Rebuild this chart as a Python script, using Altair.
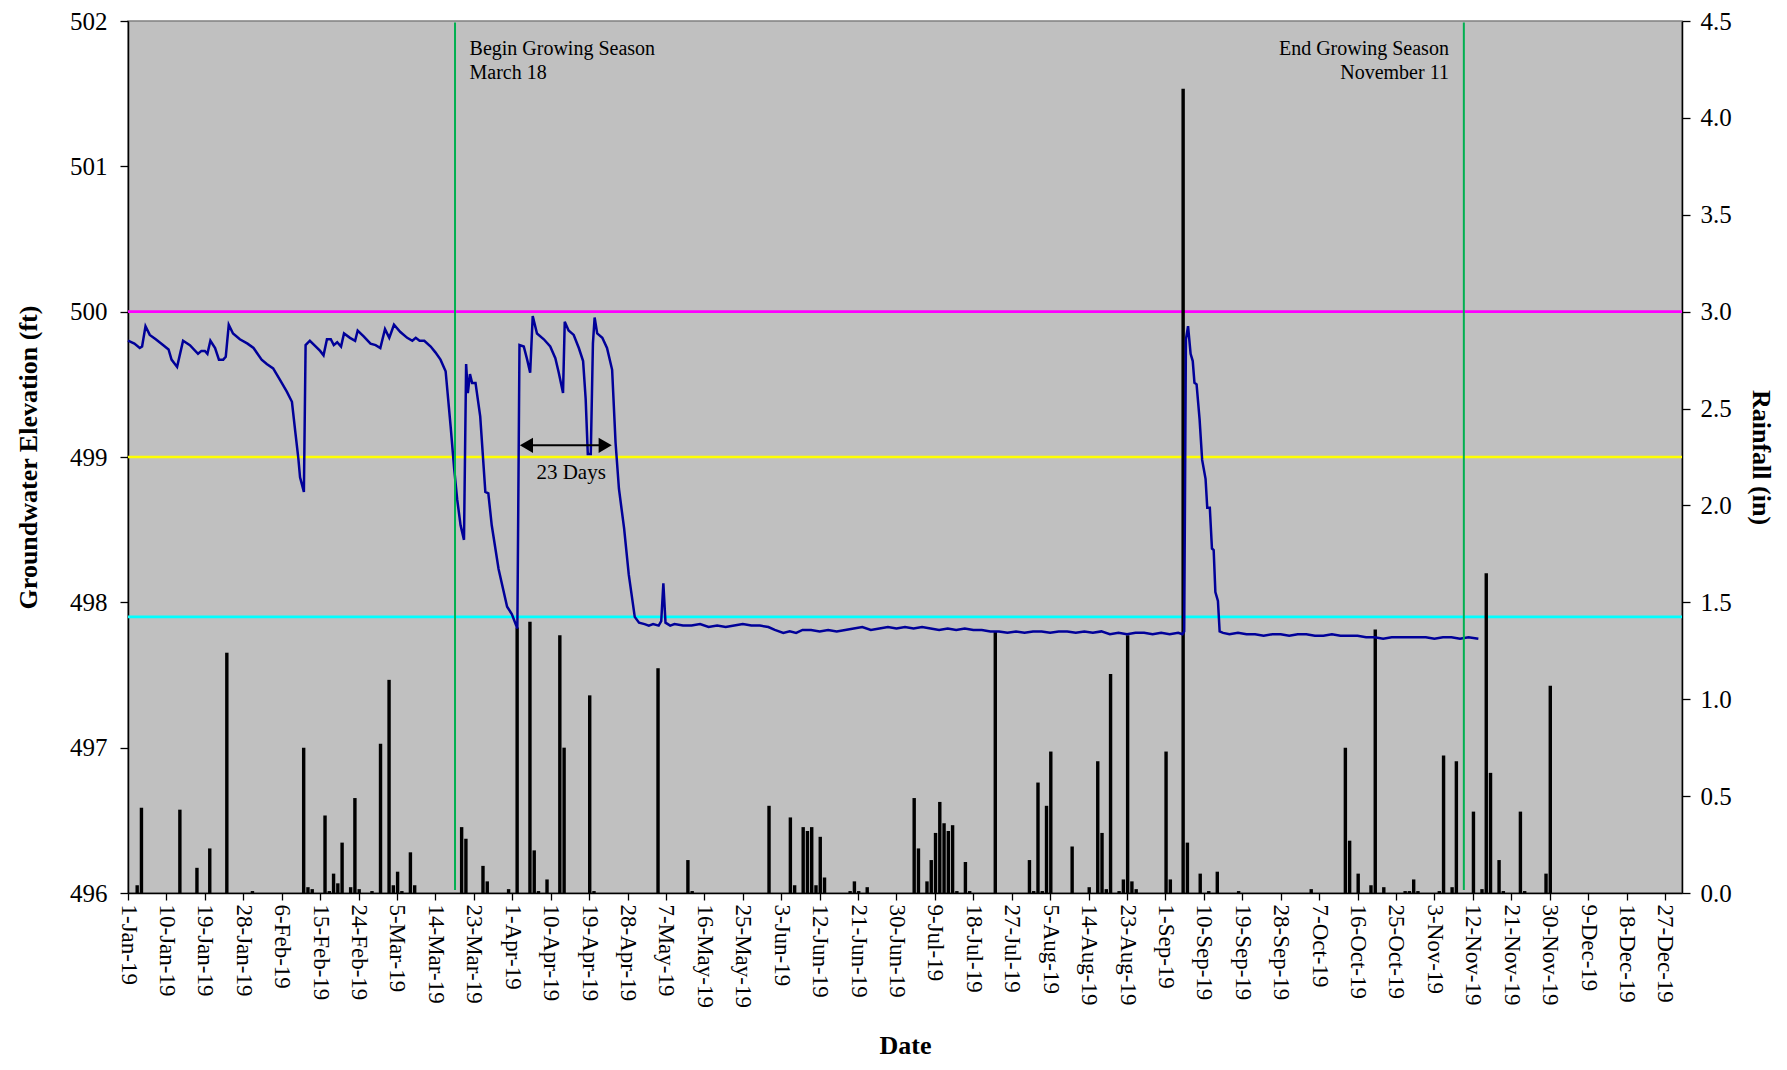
import altair as alt
import pandas as pd

# ---------------- data ----------------
# Groundwater elevation (ft): (day offset from 1-Jan-19, elevation)
gw_winter = [
    (0, 499.80), (1.5, 499.78), (2.75, 499.75), (3.3, 499.76), (4.1, 499.90), (5.1, 499.84),
    (6.5, 499.81), (8.2, 499.77), (9.5, 499.74), (10.2, 499.67), (11.5, 499.62), (12.9, 499.80),
    (14.5, 499.77), (16.4, 499.71), (17.2, 499.73), (18.0, 499.73), (18.6, 499.71), (19.3, 499.80),
    (20.4, 499.75), (21.3, 499.67), (22.3, 499.67), (22.9, 499.69), (23.6, 499.91), (24.6, 499.85),
    (26.2, 499.81), (28.0, 499.78), (29.4, 499.75), (31.3, 499.67), (32.5, 499.64), (34.0, 499.61),
    (35.6, 499.53), (37.2, 499.45), (38.4, 499.38), (39.2, 499.17), (39.9, 498.99), (40.3, 498.86),
    (41.2, 498.76), (41.6, 499.77), (42.6, 499.80), (44.0, 499.76), (45.0, 499.73), (45.8, 499.70),
    (46.6, 499.81), (47.5, 499.81), (48.2, 499.77), (49.0, 499.79), (49.9, 499.76), (50.6, 499.85),
    (52.0, 499.82), (53.2, 499.80), (53.8, 499.87), (55.2, 499.83), (56.8, 499.78), (58.0, 499.77),
    (59.1, 499.75), (60.2, 499.88), (61.2, 499.82), (62.3, 499.91), (63.8, 499.86), (65.4, 499.82),
    (66.6, 499.80), (67.4, 499.82), (68.3, 499.80), (69.4, 499.80), (70.9, 499.76), (72.0, 499.72),
    (73.2, 499.67), (74.4, 499.59),
]
gw_spring = [
    (75.6, 499.20), (76.4, 498.92), (77.1, 498.71), (77.9, 498.53), (78.7, 498.43), (79.2, 499.64),
    (79.6, 499.44), (80.1, 499.57), (80.6, 499.51), (81.4, 499.51), (82.5, 499.28), (83.7, 498.76),
    (84.4, 498.75), (85.2, 498.53), (86.8, 498.23), (88.8, 497.97), (89.9, 497.92), (91.2, 497.82),
    (91.7, 499.77), (92.7, 499.76), (93.5, 499.67), (94.2, 499.58), (94.8, 499.97), (95.8, 499.85),
    (97.4, 499.81), (98.9, 499.76), (100.1, 499.68), (100.9, 499.58), (101.9, 499.44), (102.3, 499.93),
    (103.2, 499.87), (104.4, 499.84), (105.6, 499.75), (106.6, 499.66), (107.2, 499.40), (107.7, 499.02),
    (108.4, 499.02), (108.9, 499.78), (109.3, 499.96), (109.9, 499.85), (111.1, 499.82), (112.2, 499.75),
    (113.4, 499.60), (114.2, 499.10), (115.0, 498.78), (116.2, 498.51), (117.3, 498.19), (118.7, 497.90),
    (119.7, 497.86), (121, 497.85), (122, 497.84), (123, 497.85), (124.3, 497.84), (124.9, 497.87),
    (125.4, 498.13), (125.9, 497.86), (127, 497.84), (128, 497.85),
]
gw_summer = [
    (130, 497.84), (132, 497.84), (134, 497.85), (136, 497.83), (138, 497.84), (140, 497.83),
    (142, 497.84), (144, 497.85), (146, 497.84), (148, 497.84), (150, 497.83), (151.5, 497.81),
    (153.5, 497.79), (155, 497.80), (156.5, 497.79), (158, 497.81), (160, 497.81), (162, 497.80),
    (164, 497.81), (166, 497.80), (168, 497.81), (170, 497.82), (172, 497.83), (174, 497.81),
    (176, 497.82), (178, 497.83), (180, 497.82), (182, 497.83), (184, 497.82), (186, 497.83),
    (188, 497.82), (190, 497.81), (192, 497.82), (194, 497.81), (196, 497.82), (198, 497.81),
    (200, 497.81), (202, 497.80), (204, 497.80), (206, 497.79), (208, 497.80), (210, 497.79),
    (212, 497.80), (214, 497.80), (216, 497.79), (218, 497.80), (220, 497.80), (222, 497.79),
    (224, 497.80), (226, 497.79), (228, 497.80), (230, 497.78), (232, 497.79), (234, 497.78),
    (236, 497.79), (238, 497.79), (240, 497.78), (242, 497.79), (244, 497.78), (246, 497.79),
    (247.0, 497.78), (247.4, 497.80),
]
gw_autumn = [
    (247.8, 499.81), (248.3, 499.90), (248.9, 499.71), (249.4, 499.66), (249.8, 499.51), (250.3, 499.50),
    (251.0, 499.26), (251.6, 498.98), (252.4, 498.85), (252.8, 498.65), (253.4, 498.65), (253.9, 498.37),
    (254.3, 498.36), (254.7, 498.07), (255.3, 498.01), (255.7, 497.80), (256.5, 497.79), (258, 497.78),
    (260, 497.79), (262, 497.78), (264, 497.78), (266, 497.77), (268, 497.78), (270, 497.78),
    (272, 497.77), (274, 497.78), (276, 497.78), (278, 497.77), (280, 497.77), (282, 497.78),
    (284, 497.77), (286, 497.77), (288, 497.77), (290, 497.76), (292, 497.76), (294, 497.75),
    (296, 497.76), (298, 497.76), (300, 497.76), (302, 497.76), (304, 497.76), (306, 497.75),
    (308, 497.76), (310, 497.76), (312, 497.75), (314, 497.76), (316.3, 497.75),
]

# Daily rainfall (in): day offset from 1-Jan-19 and amount
rain_day = [
    2, 3, 12, 16, 19, 23, 29, 41, 42, 43, 46, 47, 48, 49, 50, 52, 53, 54, 57, 59, 61, 62, 63, 64, 66, 67,
    78, 79, 83, 84, 89, 91, 94, 95, 96, 98, 101, 102, 108, 109, 124, 131, 132, 150,
    155, 156, 158, 159, 160, 161, 162, 163, 169, 170, 171, 173, 184, 185, 187, 188, 189, 190, 191, 192,
    193, 194, 196, 197, 203, 211, 212, 213, 214, 215, 216, 221, 225, 227, 228, 229, 230, 232,
    233, 234, 235, 236, 243, 244, 247, 248, 251, 253, 255, 260, 277, 285, 286, 288, 291, 292, 294,
    299, 300, 301, 302, 307, 308, 310, 311, 315, 317, 318, 319, 321, 322, 326, 327, 332, 333,
]
rain_in = [
    0.04, 0.44, 0.43, 0.13, 0.23, 1.24, 0.01, 0.75, 0.03, 0.02, 0.40, 0.01, 0.10, 0.05, 0.26, 0.03, 0.49, 0.02, 0.01, 0.77, 1.10, 0.04, 0.11, 0.01, 0.21, 0.04,
    0.34, 0.28, 0.14, 0.06, 0.02, 1.37, 1.40, 0.22, 0.01, 0.07, 1.33, 0.75, 1.02, 0.01, 1.16, 0.17, 0.01, 0.45,
    0.39, 0.04, 0.34, 0.32, 0.34, 0.04, 0.29, 0.08, 0.01, 0.06, 0.01, 0.03, 0.49, 0.23, 0.06, 0.17, 0.31, 0.47, 0.36, 0.32,
    0.35, 0.01, 0.16, 0.01, 1.35, 0.17, 0.01, 0.57, 0.01, 0.45, 0.73, 0.24, 0.03, 0.68, 0.31, 0.02, 1.13, 0.01,
    0.07, 1.33, 0.06, 0.02, 0.73, 0.07, 4.15, 0.26, 0.10, 0.01, 0.11, 0.01, 0.02, 0.75, 0.27, 0.10, 0.04, 1.36, 0.03,
    0.01, 0.01, 0.07, 0.01, 0.01, 0.71, 0.03, 0.68, 0.42, 0.02, 1.65, 0.62, 0.17, 0.01, 0.42, 0.01, 0.10, 1.07,
]

# Reference elevations (ft) and their colours
ref_levels = [500.0, 499.0, 497.9]
ref_colors = ["#FF00FF", "#FFFF00", "#00FFFF"]

# Growing season markers (day offset) and label text
season_day = [76.6, 312.9]
season_top, season_bottom = 501.99, 496.02
begin_text = ["Begin Growing Season", "March 18"]
end_text = ["End Growing Season", "November 11"]
label_elev = [501.81, 501.645]
begin_label_day, end_label_day = 80.0, 309.4

# "23 Days" annotation
arrow_days = [91.5, 113.6]
arrow_elev = 499.08
arrow_text, arrow_text_day, arrow_text_elev = "23 Days", 103.8, 498.89

# axis ticks: every 9 days from 1-Jan-19, elevations, rainfall
x_ticks = list(range(0, 361, 9))
left_ticks = [496, 497, 498, 499, 500, 501, 502]
right_ticks = [0, 0.5, 1.0, 1.5, 2.0, 2.5, 3.0, 3.5, 4.0, 4.5]

# ---------------- build tables ----------------
gw_pts = gw_winter + gw_spring + gw_summer + gw_autumn
gw = pd.DataFrame({"day": [p[0] for p in gw_pts], "elev": [p[1] for p in gw_pts]})

rain = pd.DataFrame({
    "start": [d - 0.25 for d in rain_day],
    "end": [d + 0.55 for d in rain_day],
    "rain": rain_in,
    "base": 0.0,
})

refs = pd.DataFrame({"level": ref_levels, "color": ref_colors})
season = pd.DataFrame({"day": season_day, "top": season_top, "bottom": season_bottom})
begin_df = pd.DataFrame({"day": [begin_label_day] * 2, "elev": label_elev, "text": begin_text})
end_df = pd.DataFrame({"day": [end_label_day] * 2, "elev": label_elev, "text": end_text})

head_len = 1.83
arrow_df = pd.DataFrame({"day": [arrow_days[0] + 1.5], "b": [arrow_days[1] - 1.5], "elev": [arrow_elev]})
heads_left = pd.DataFrame({"day": [arrow_days[0] + head_len], "elev": [arrow_elev]})
heads_right = pd.DataFrame({"day": [arrow_days[1] - head_len], "elev": [arrow_elev]})
days_df = pd.DataFrame({"day": [arrow_text_day], "elev": [arrow_text_elev], "text": [arrow_text]})

# ---------------- chart ----------------
FONT = "Liberation Serif"

x_scale = alt.Scale(domain=[0, 364], nice=False, zero=False)
left_scale = alt.Scale(domain=[496, 502], nice=False, zero=False)
right_scale = alt.Scale(domain=[0, 4.5], nice=False)

x_axis = alt.Axis(values=x_ticks,
                  labelExpr="timeFormat(datetime(2019, 0, 1 + datum.value), '%-d-%b-%y')",
                  orient="bottom", labelAngle=90, labelAlign="left", labelBaseline="middle",
                  labelFontSize=23, labelPadding=4, tickSize=7, labelOverlap=False, labelFlush=False,
                  title="Date", titleFontSize=26, titleFontWeight="bold", titlePadding=25)
left_axis = alt.Axis(values=left_ticks, format="d", orient="left", labelFontSize=25, labelPadding=13,
                     tickSize=8, title="Groundwater Elevation (ft)", titleFontSize=26,
                     titleFontWeight="bold", titlePadding=28)
right_axis = alt.Axis(values=right_ticks, format=".1f", orient="right", labelFontSize=25, labelPadding=10,
                      tickSize=8, title="Rainfall (in)", titleFontSize=26, titleFontWeight="bold",
                      titlePadding=16)


def X(field):
    return alt.X(field, type="quantitative", scale=x_scale, axis=x_axis)


def YL(field):
    return alt.Y(field, type="quantitative", scale=left_scale, axis=None)


hlines = alt.Chart(refs).mark_rule(strokeWidth=2.6).encode(
    y=alt.Y("level:Q", scale=left_scale, axis=left_axis),
    color=alt.Color("color:N", scale=None),
)

bars = alt.Chart(rain).mark_bar(color="black").encode(
    x=X("start"),
    x2="end:Q",
    y=alt.Y("rain:Q", scale=right_scale, axis=right_axis),
    y2="base:Q",
)

line = alt.Chart(gw).mark_line(color="#000099", strokeWidth=2.5).encode(x=X("day"), y=YL("elev"))

vlines = alt.Chart(season).mark_rule(color="#00B050", strokeWidth=2).encode(
    x=X("day"), y=YL("top"), y2="bottom:Q",
)

arrow = alt.Chart(arrow_df).mark_rule(color="black", strokeWidth=2).encode(
    x=X("day"), x2="b:Q", y=YL("elev"),
)
head_l = alt.Chart(heads_left).mark_point(shape="triangle-left", filled=True, size=230,
                                           color="black", opacity=1).encode(x=X("day"), y=YL("elev"))
head_r = alt.Chart(heads_right).mark_point(shape="triangle-right", filled=True, size=230,
                                            color="black", opacity=1).encode(x=X("day"), y=YL("elev"))

text_common = dict(font=FONT, fontSize=20, color="black", baseline="middle")
begin_lbl = alt.Chart(begin_df).mark_text(align="left", **text_common).encode(
    x=X("day"), y=YL("elev"), text="text:N")
end_lbl = alt.Chart(end_df).mark_text(align="right", **text_common).encode(
    x=X("day"), y=YL("elev"), text="text:N")
days_lbl = alt.Chart(days_df).mark_text(align="center", font=FONT, fontSize=21, color="black",
                                        baseline="middle").encode(x=X("day"), y=YL("elev"), text="text:N")

upper = alt.layer(line, vlines, arrow, head_l, head_r, begin_lbl, end_lbl, days_lbl)

chart = alt.layer(hlines, bars, upper).resolve_scale(y="independent").properties(
    width=1554,
    height=872,
    autosize=alt.AutoSizeParams(type="none"),
    padding={"left": 120, "top": 13, "right": 97, "bottom": 170},
    background="white",
).configure_axis(
    labelFont=FONT, titleFont=FONT, labelColor="black", titleColor="black",
    domainColor="black", tickColor="black", domainWidth=1.5, tickWidth=1.3, grid=False,
).configure_view(
    fill="#C0C0C0", stroke="#808080", strokeWidth=1.5,
)

chart.save("out.html", embed_options={"renderer": "svg", "actions": False})
